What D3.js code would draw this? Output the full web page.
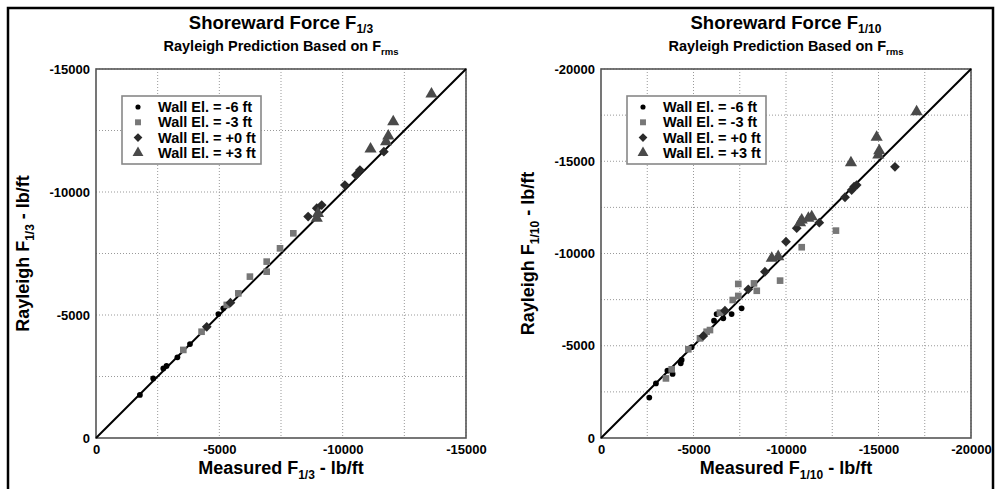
<!DOCTYPE html>
<html><head><meta charset="utf-8">
<script src="https://cdn.jsdelivr.net/npm/d3@7"></script>
<style>body{margin:0;background:#fff}svg text{font-family:"Liberation Sans",Arial,sans-serif;font-weight:bold}</style>
</head><body><svg id="c" width="1001" height="489"></svg>
<script>
const seriesNames = ["Wall El. = -6 ft","Wall El. = -3 ft","Wall El. = +0 ft","Wall El. = +3 ft"];
// Left chart: F1/3 [measured, rayleigh]
const left_m6 = [[-1780,-1750],[-2320,-2420],[-2730,-2830],[-2860,-2930],[-3300,-3280],[-3810,-3820],[-4960,-5040],[-5160,-5270]];
const left_m3 = [[-3540,-3580],[-4280,-4320],[-5300,-5410],[-5770,-5880],[-6240,-6560],[-6920,-6760],[-6920,-7170],[-7460,-7710],[-8000,-8320]];
const left_p0 = [[-4490,-4520],[-5450,-5500],[-8600,-9000],[-8950,-9340],[-9150,-9470],[-10090,-10280],[-10540,-10690],[-10700,-10890],[-11670,-11640]];
const left_p3 = [[-9000,-9130],[-8950,-8930],[-11130,-11750],[-11760,-12040],[-11850,-12280],[-12050,-12860],[-13600,-13980]];
// Right chart: F1/10 [measured, rayleigh]
const right_m6 = [[-2610,-2190],[-2970,-2960],[-3870,-3470],[-3590,-3650],[-4310,-4050],[-4360,-4230],[-4900,-4920],[-6110,-6360],[-6250,-6720],[-6610,-6490],[-7060,-6720],[-7600,-7030]];
const right_m3 = [[-3510,-3230],[-3820,-3720],[-4720,-4810],[-5350,-5400],[-5710,-5760],[-5890,-5850],[-6430,-6790],[-7120,-7480],[-7420,-8350],[-7420,-7700],[-8270,-8380],[-8420,-7980],[-9680,-8530],[-10850,-10340],[-12700,-11240]];
const right_p0 = [[-5530,-5530],[-6700,-6900],[-7960,-8060],[-8860,-9010],[-10000,-10640],[-10580,-11370],[-11800,-11670],[-13190,-13050],[-13550,-13440],[-13680,-13620],[-13820,-13710],[-15890,-14700]];
const right_p3 = [[-9230,-9740],[-9580,-9830],[-10760,-11670],[-10850,-11820],[-11210,-11910],[-11390,-11990],[-13510,-14920],[-14900,-16300],[-15040,-15570],[-14990,-15340],[-17060,-17680]];
const leftTicks = [0,-5000,-10000,-15000];
const rightTicks = [0,-5000,-10000,-15000,-20000];

const svg = d3.select("#c");
svg.append("rect").attr("x",8).attr("y",8).attr("width",985).attr("height",495)
  .attr("fill","none").attr("stroke","#000").attr("stroke-width",2.5);

const shapes = [d3.symbolCircle, d3.symbolSquare, d3.symbolSquare, d3.symbolTriangle];
const rots = [0,0,45,0];
const sizes = [26, 44, 48, 64];
const fills = ["#000","#777","#2a2a2a","#4a4a4a"];
const fmt = d => String(d);

function panel(opt){
  const {x0,y0,w,h,max,ticks,series,sub,legendX} = opt;
  const g = svg.append("g");
  const xs = d3.scaleLinear().domain([0,max]).range([x0,x0+w]);
  const ys = d3.scaleLinear().domain([0,max]).range([y0+h,y0]);
  const grid = d3.range(0, max-1, -2500).concat([max]);
  g.selectAll(".gx").data(grid.slice(1,-1)).enter().append("line")
    .attr("x1",d=>xs(d)).attr("x2",d=>xs(d)).attr("y1",y0).attr("y2",y0+h)
    .attr("stroke","#999").attr("stroke-width",1).attr("stroke-dasharray","1,2");
  g.selectAll(".gy").data(grid.slice(1,-1)).enter().append("line")
    .attr("y1",d=>ys(d)).attr("y2",d=>ys(d)).attr("x1",x0).attr("x2",x0+w)
    .attr("stroke","#999").attr("stroke-width",1).attr("stroke-dasharray","1,2");
  const xa = d3.axisBottom(xs).tickValues(ticks).tickSize(0).tickPadding(7).tickFormat(fmt);
  const ya = d3.axisLeft(ys).tickValues(ticks).tickSize(0).tickPadding(6).tickFormat(fmt);
  const gx = g.append("g").attr("transform",`translate(0,${y0+h})`).call(xa);
  const gy = g.append("g").attr("transform",`translate(${x0},0)`).call(ya);
  [gx,gy].forEach(a=>{a.select(".domain").remove();a.selectAll("text").attr("font-size",13).attr("fill","#000")
    .style("font-family",'"Liberation Sans",Arial,sans-serif').style("font-weight","bold");});
  g.append("rect").attr("x",x0).attr("y",y0).attr("width",w).attr("height",h)
    .attr("fill","none").attr("stroke","#555").attr("stroke-width",1.6);
  g.append("line").attr("x1",xs(0)).attr("y1",ys(0)).attr("x2",xs(max)).attr("y2",ys(max))
    .attr("stroke","#000").attr("stroke-width",2);
  series.forEach((s,i)=>{
    g.selectAll(null).data(s).enter().append("path")
      .attr("d",d3.symbol().type(shapes[i]).size(sizes[i]))
      .attr("transform",d=>`translate(${xs(d[0])},${ys(d[1])}) rotate(${rots[i]})`)
      .attr("fill",fills[i]);
  });
  const lx = legendX, ly = y0+27;
  g.append("rect").attr("x",lx).attr("y",ly).attr("width",139).attr("height",68)
    .attr("fill","#fff").attr("stroke","#888").attr("stroke-width",1.6);
  seriesNames.forEach((n,i)=>{
    const yy = ly+11+i*15.3;
    g.append("path").attr("d",d3.symbol().type(shapes[i]).size(sizes[i]*0.8))
      .attr("transform",`translate(${lx+16},${yy}) rotate(${rots[i]})`).attr("fill",fills[i]);
    g.append("text").attr("x",lx+36).attr("y",yy+5).attr("font-size",14.5).text(n);
  });
  const cx = x0+w/2;
  const t = g.append("text").attr("x",cx).attr("y",29).attr("text-anchor","middle").attr("font-size",18.5);
  t.append("tspan").text("Shoreward Force F");
  t.append("tspan").attr("font-size",12).attr("dy",4).text(sub);
  const st = g.append("text").attr("x",cx).attr("y",51).attr("text-anchor","middle").attr("font-size",14.5);
  st.append("tspan").text("Rayleigh Prediction Based on F");
  st.append("tspan").attr("font-size",9.5).attr("dy",4).text("rms");
  const xl = g.append("text").attr("x",cx).attr("y",474).attr("text-anchor","middle").attr("font-size",18);
  xl.append("tspan").text("Measured F");
  xl.append("tspan").attr("font-size",12).attr("dy",5).text(sub);
  xl.append("tspan").attr("dy",-5).text(" - lb/ft");
  const yl = g.append("text").attr("transform",`translate(${x0-67},${y0+h/2}) rotate(-90)`)
    .attr("text-anchor","middle").attr("font-size",18);
  yl.append("tspan").text("Rayleigh F");
  yl.append("tspan").attr("font-size",12).attr("dy",5).text(sub);
  yl.append("tspan").attr("dy",-5).text(" - lb/ft");
}

panel({x0:96,y0:69,w:370,h:369,max:-15000,ticks:leftTicks,series:[left_m6,left_m3,left_p0,left_p3],sub:"1/3",legendX:122});
panel({x0:601,y0:69,w:370,h:369,max:-20000,ticks:rightTicks,series:[right_m6,right_m3,right_p0,right_p3],sub:"1/10",legendX:627});
</script></body></html>
